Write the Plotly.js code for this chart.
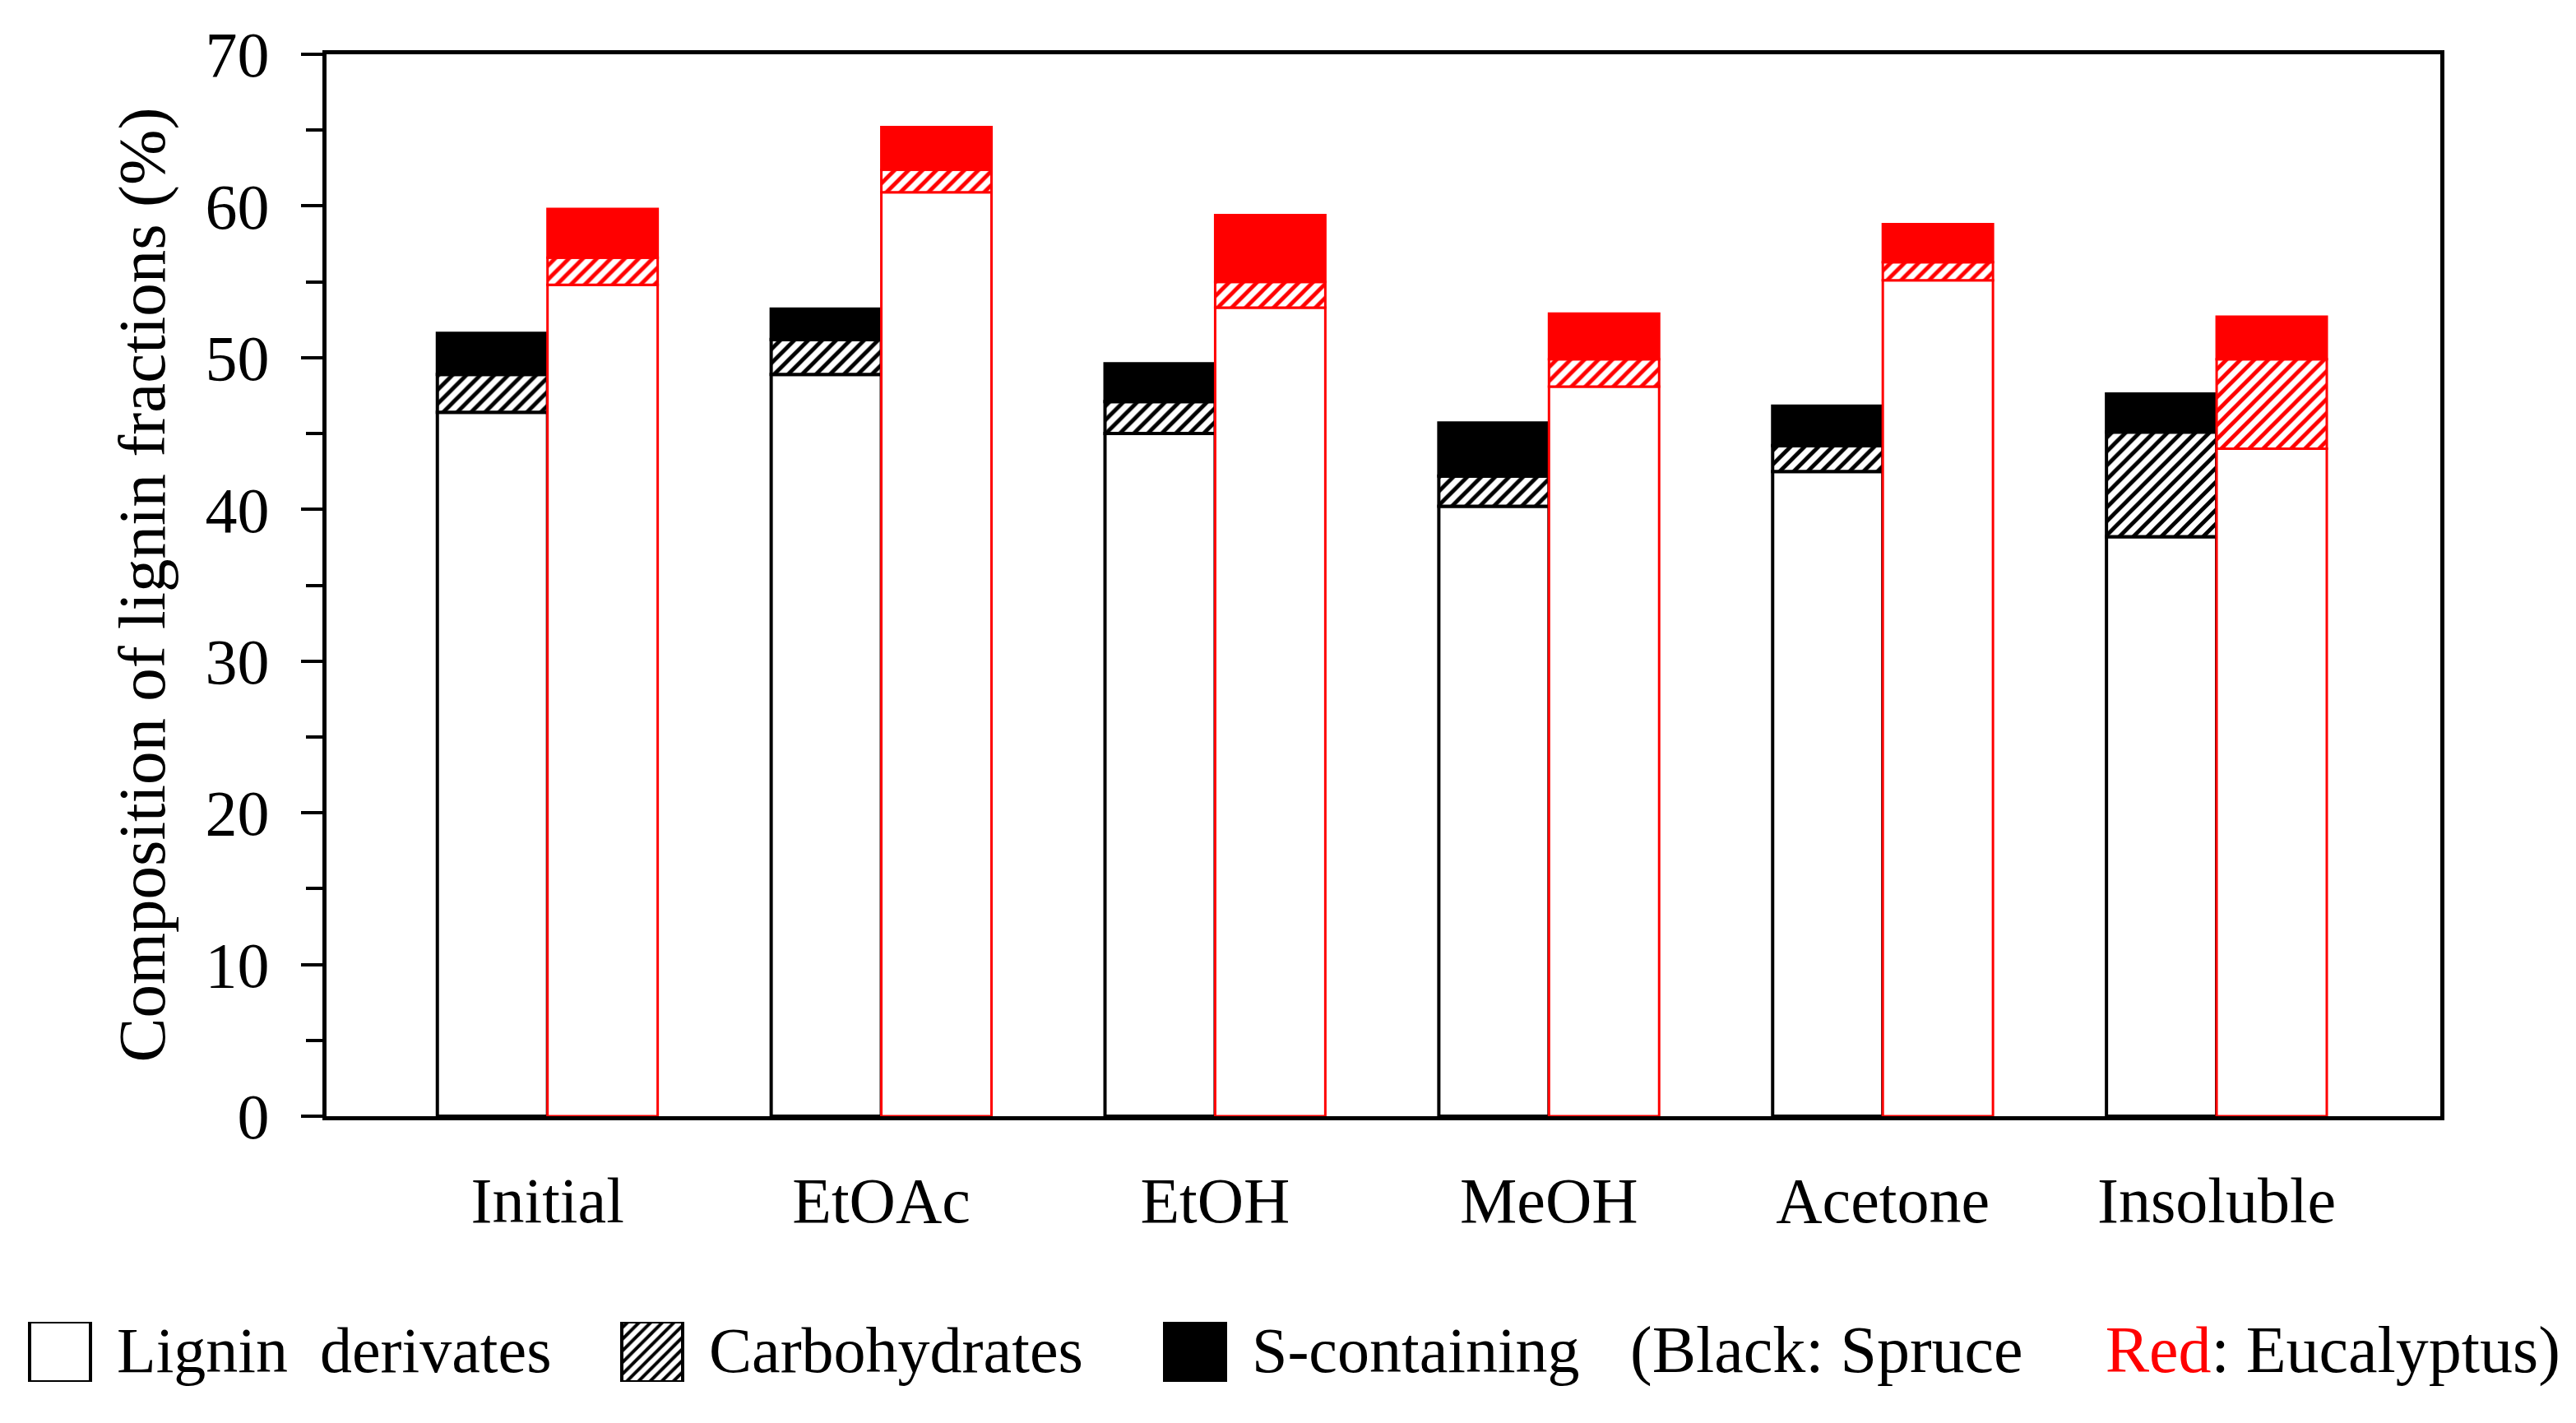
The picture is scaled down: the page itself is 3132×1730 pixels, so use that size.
<!DOCTYPE html>
<html>
<head>
<meta charset="utf-8">
<script src="https://cdn.plot.ly/plotly-3.0.1.min.js"></script>
<style>
  html, body { margin: 0; padding: 0; background: #fff; }
  #chart { width: 3132px; height: 1730px; }
</style>
</head>
<body>
<div id="chart"></div>
<script>
// categories on the x axis
const categories = ["Initial", "EtOAc", "EtOH", "MeOH", "Acetone", "Insoluble"];

// Spruce (black), stacked segments in %
const spruce_lignin = [46.4, 48.9, 45.0, 40.2, 42.5, 38.2];
const spruce_carbs  = [2.5, 2.3, 2.1, 2.0, 1.7, 6.9];
const spruce_s      = [2.7, 2.0, 2.5, 3.5, 2.6, 2.5];

// Eucalyptus (red), stacked segments in %
const euca_lignin = [54.8, 60.9, 53.3, 48.1, 55.1, 44.0];
const euca_carbs  = [1.8, 1.5, 1.7, 1.8, 1.2, 5.9];
const euca_s      = [3.2, 2.8, 4.4, 3.0, 2.5, 2.8];

// legend entries
const legend_labels = ["Lignin  derivates", "Carbohydrates", "S-containing"];

const W = 3132, H = 1730;
const FONT = "Liberation Serif, Times New Roman, serif";
const RED = "#ff0000";

// plot box in pixels
const box = {l: 397, r: 2967, t: 66, b: 1357};

function add(a, b) { return a.map((v, i) => v + b[i]); }

function hatch(color, size) {
    return {shape: '/', fgcolor: color, bgcolor: 'white', size: size, solidity: 0.4, fillmode: 'replace'};
}

function stack_traces(lignin, carbs, s, color, lw, offset) {
    let common = {
        type: 'bar',
        x: categories,
        width: 0.33,
        offset: offset,
        showlegend: false,
        hoverinfo: 'y',
    };
    let t_lignin = {
        ...common,
        y: lignin,
        base: lignin.map(() => 0),
        marker: {color: 'white', line: {color: color, width: lw}},
    };
    let t_carbs = {
        ...common,
        y: carbs,
        base: lignin,
        marker: {color: 'white', line: {color: color, width: lw}, pattern: hatch(color, 12)},
    };
    let t_s = {
        ...common,
        y: s,
        base: add(lignin, carbs),
        marker: {color: color, line: {color: color, width: lw}},
    };
    return [t_lignin, t_carbs, t_s];
}

let traces = [
    ...stack_traces(spruce_lignin, spruce_carbs, spruce_s, 'black', 4, -0.33),
    ...stack_traces(euca_lignin, euca_carbs, euca_s, RED, 3, 0),
];

// legend swatches, drawn on their own pixel-scaled axes
const sw_x = [73, 793, 1453];
const sw_text_x = [140, 860, 1520];
const sw_marker = [
    {color: 'white', line: {color: 'black', width: 4}},
    {color: 'white', line: {color: 'black', width: 4}, pattern: hatch('black', 10)},
    {color: 'black', line: {color: 'black', width: 4}},
];
sw_x.forEach((x, i) => {
    traces.push({
        type: 'bar',
        x: [x],
        y: [1],
        width: 74,
        xaxis: 'x2',
        yaxis: 'y2',
        showlegend: false,
        hoverinfo: 'skip',
        marker: sw_marker[i],
    });
});

let annotations = legend_labels.map((txt, i) => ({
    xref: 'paper', yref: 'paper',
    x: sw_text_x[i] / W, y: 1 - 1641 / H,
    xanchor: 'left', yanchor: 'middle',
    text: txt, showarrow: false,
    font: {family: FONT, size: 78, color: 'black'},
}));
annotations.push({
    xref: 'paper', yref: 'paper',
    x: 1980 / W, y: 1 - 1641 / H,
    xanchor: 'left', yanchor: 'middle',
    text: "(Black: Spruce&nbsp;&nbsp;&nbsp;&nbsp;&nbsp;<span style='color:" + RED + "'>Red</span>: Eucalyptus)",
    showarrow: false,
    font: {family: FONT, size: 80, color: 'black'},
});
// y axis title
annotations.push({
    xref: 'paper', yref: 'paper',
    x: 172 / W, y: 1 - ((box.t + box.b) / 2) / H,
    xanchor: 'center', yanchor: 'middle',
    textangle: -90,
    text: "Composition of lignin fractions (%)",
    showarrow: false,
    font: {family: FONT, size: 81, color: 'black'},
});

let layout = {
    width: W,
    height: H,
    margin: {l: 0, r: 0, t: 0, b: 0},
    paper_bgcolor: 'white',
    plot_bgcolor: 'white',
    barmode: 'overlay',
    showlegend: false,
    font: {family: FONT, size: 78, color: 'black'},
    xaxis: {
        domain: [box.l / W, box.r / W],
        range: [-0.662, 5.67],
        type: 'category',
        showline: true, linecolor: 'black', linewidth: 5, mirror: true,
        ticks: '', showgrid: false, zeroline: false,
        ticklabelstandoff: 30,
        tickfont: {family: FONT, size: 78, color: 'black'},
        fixedrange: true,
    },
    yaxis: {
        domain: [1 - box.b / H, 1 - box.t / H],
        range: [0, 70],
        dtick: 10,
        ticks: 'outside', ticklen: 26, tickwidth: 4, tickcolor: 'black',
        minor: {dtick: 5, ticks: 'outside', ticklen: 20, tickwidth: 4, tickcolor: 'black'},
        showline: true, linecolor: 'black', linewidth: 5, mirror: true,
        showgrid: false, zeroline: false,
        ticklabelstandoff: 23,
        tickfont: {family: FONT, size: 78, color: 'black'},
        fixedrange: true,
    },
    xaxis2: {
        domain: [0, 1], range: [0, W], visible: false, anchor: 'y2', fixedrange: true,
    },
    yaxis2: {
        domain: [1 - 1680 / H, 1 - 1607 / H], range: [0, 1], visible: false, anchor: 'x2', fixedrange: true,
    },
    annotations: annotations,
};

Plotly.newPlot('chart', traces, layout, {displayModeBar: false, staticPlot: true});
</script>
</body>
</html>
